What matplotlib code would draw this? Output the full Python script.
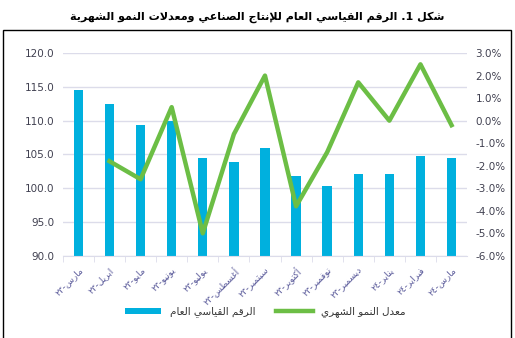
import re
import matplotlib
matplotlib.use("Agg")
import matplotlib.pyplot as plt
from matplotlib.patches import Patch, Rectangle
from matplotlib.lines import Line2D
from matplotlib.ticker import FormatStrFormatter, MultipleLocator

# data
months = ["مارس-٢٣", "ابريل-٢٣", "مايو-٢٣", "يونيو-٢٣", "يوليو-٢٣", "أغسطس-٢٣",
          "سبتمبر-٢٣", "أكتوبر-٢٣", "نوفمبر-٢٣", "ديسمبر-٢٣", "يناير-٢٤",
          "فبراير-٢٤", "مارس-٢٤"]
index_values = [114.5, 112.4, 109.4, 110.0, 104.5, 103.9, 105.9, 101.8, 100.3,
                102.1, 102.1, 104.7, 104.5]
growth_values = [None, -1.8, -2.6, 0.6, -5.0, -0.6, 2.0, -3.8, -1.4, 1.7, 0.0, 2.5, -0.2]

title = "شكل 1. الرقم القياسي العام للإنتاج الصناعي ومعدلات النمو الشهرية"
bar_label = "الرقم القياسي العام"
line_label = "معدل النمو الشهري"

# --- minimal arabic shaping (matplotlib has no text shaping) ---
FORMS = {
    "ء": (0xFE80,), "آ": (0xFE81, 0xFE82), "أ": (0xFE83, 0xFE84),
    "ؤ": (0xFE85, 0xFE86), "إ": (0xFE87, 0xFE88),
    "ئ": (0xFE89, 0xFE8A, 0xFE8B, 0xFE8C), "ا": (0xFE8D, 0xFE8E),
    "ب": (0xFE8F, 0xFE90, 0xFE91, 0xFE92), "ة": (0xFE93, 0xFE94),
    "ت": (0xFE95, 0xFE96, 0xFE97, 0xFE98), "ث": (0xFE99, 0xFE9A, 0xFE9B, 0xFE9C),
    "ج": (0xFE9D, 0xFE9E, 0xFE9F, 0xFEA0), "ح": (0xFEA1, 0xFEA2, 0xFEA3, 0xFEA4),
    "خ": (0xFEA5, 0xFEA6, 0xFEA7, 0xFEA8), "د": (0xFEA9, 0xFEAA),
    "ذ": (0xFEAB, 0xFEAC), "ر": (0xFEAD, 0xFEAE), "ز": (0xFEAF, 0xFEB0),
    "س": (0xFEB1, 0xFEB2, 0xFEB3, 0xFEB4), "ش": (0xFEB5, 0xFEB6, 0xFEB7, 0xFEB8),
    "ص": (0xFEB9, 0xFEBA, 0xFEBB, 0xFEBC), "ض": (0xFEBD, 0xFEBE, 0xFEBF, 0xFEC0),
    "ط": (0xFEC1, 0xFEC2, 0xFEC3, 0xFEC4), "ظ": (0xFEC5, 0xFEC6, 0xFEC7, 0xFEC8),
    "ع": (0xFEC9, 0xFECA, 0xFECB, 0xFECC), "غ": (0xFECD, 0xFECE, 0xFECF, 0xFED0),
    "ف": (0xFED1, 0xFED2, 0xFED3, 0xFED4), "ق": (0xFED5, 0xFED6, 0xFED7, 0xFED8),
    "ك": (0xFED9, 0xFEDA, 0xFEDB, 0xFEDC), "ل": (0xFEDD, 0xFEDE, 0xFEDF, 0xFEE0),
    "م": (0xFEE1, 0xFEE2, 0xFEE3, 0xFEE4), "ن": (0xFEE5, 0xFEE6, 0xFEE7, 0xFEE8),
    "ه": (0xFEE9, 0xFEEA, 0xFEEB, 0xFEEC), "و": (0xFEED, 0xFEEE),
    "ى": (0xFEEF, 0xFEF0), "ي": (0xFEF1, 0xFEF2, 0xFEF3, 0xFEF4),
}
LAM_ALEF = {"آ": (0xFEF5, 0xFEF6), "أ": (0xFEF7, 0xFEF8),
            "إ": (0xFEF9, 0xFEFA), "ا": (0xFEFB, 0xFEFC)}


def joins_next(ch):
    return ch in FORMS and len(FORMS[ch]) == 4


def shape_word(word):
    out = []
    i = 0
    while i < len(word):
        c = word[i]
        prev = i > 0 and joins_next(word[i - 1])
        if c == "ل" and i + 1 < len(word) and word[i + 1] in LAM_ALEF:
            iso, fin = LAM_ALEF[word[i + 1]]
            out.append(chr(fin if prev else iso))
            i += 2
            continue
        forms = FORMS.get(c)
        if forms is None:
            out.append(c)
        else:
            nxt = joins_next(c) and i + 1 < len(word) and word[i + 1] in FORMS
            if len(forms) == 1:
                f = forms[0]
            elif prev and nxt:
                f = forms[3]
            elif nxt:
                f = forms[2]
            elif prev:
                f = forms[1]
            else:
                f = forms[0]
            out.append(chr(f))
        i += 1
    return "".join(out)


def ar(text):
    tokens = re.findall(r"[\u0621-\u064A]+|[0-9\u0660-\u0669]+|.", text)
    visual = []
    for t in reversed(tokens):
        if re.match(r"[\u0621-\u064A]", t):
            visual.append(shape_word(t)[::-1])
        else:
            visual.append(t)
    return "".join(visual)


def create_chart():
    bar_color = "#00B0DE"
    line_color = "#6CBE45"
    tick_color = "#404050"

    fig = plt.figure(figsize=(5.15, 3.38), dpi=100)
    ax = fig.add_axes([0.122, 0.243, 0.785, 0.6])
    x = list(range(len(months)))

    ax.bar(x, index_values, width=0.3, color=bar_color, zorder=2)
    ax.set_ylim(90, 120)
    ax.set_xlim(-0.5, len(months) - 0.5)
    ax.yaxis.set_major_locator(MultipleLocator(5))
    ax.yaxis.set_major_formatter(FormatStrFormatter("%.1f"))
    ax.grid(axis="y", color="#DCDCEA", linewidth=1, zorder=0)
    ax.set_axisbelow(True)

    for s in ["top", "left", "right"]:
        ax.spines[s].set_visible(False)
    ax.spines["bottom"].set_color("#DCDCEA")

    ax.set_xticks(x)
    ax.set_xticklabels([ar(m) for m in months], rotation=45, ha="right",
                       rotation_mode="anchor", fontsize=6.5, color="#5A5A9A")
    ax.set_xticks([i + 0.5 for i in x[:-1]] + [-0.5], minor=True)
    ax.tick_params(axis="x", which="major", length=0, pad=7)
    ax.tick_params(axis="x", which="minor", length=4, color="#DCDCEA")
    ax.tick_params(axis="y", length=0, labelsize=7.5, labelcolor=tick_color, pad=6)

    ax2 = ax.twinx()
    gx = [i for i, v in zip(x, growth_values) if v is not None]
    gy = [v for v in growth_values if v is not None]
    ax2.plot(gx, gy, color=line_color, linewidth=3.2, zorder=3)
    ax2.set_ylim(-6, 3)
    ax2.yaxis.set_major_locator(MultipleLocator(1))
    ax2.yaxis.set_major_formatter(FormatStrFormatter("%.1f%%"))
    ax2.tick_params(axis="y", length=0, labelsize=7.5, labelcolor=tick_color, pad=6)
    for s in ax2.spines.values():
        s.set_visible(False)

    fig.text(0.5, 0.95, ar(title), ha="center", va="center",
             fontsize=8, fontweight="bold", color="black")

    fig.add_artist(Rectangle((0.006, -0.05), 0.986, 0.961, fill=False,
                             linewidth=1, edgecolor="black",
                             transform=fig.transFigure))

    handles = [Patch(facecolor=bar_color, edgecolor="none"),
               Line2D([0], [0], color=line_color, linewidth=3.2)]
    fig.legend(handles, [ar(bar_label), ar(line_label)], ncol=2,
               loc="center", bbox_to_anchor=(0.515, 0.077), frameon=False,
               fontsize=7.5, handlelength=3.5, handleheight=0.5,
               columnspacing=2.0, labelcolor="#333333")

    fig.savefig("out.png", dpi=100)


if __name__ == "__main__":
    create_chart()
